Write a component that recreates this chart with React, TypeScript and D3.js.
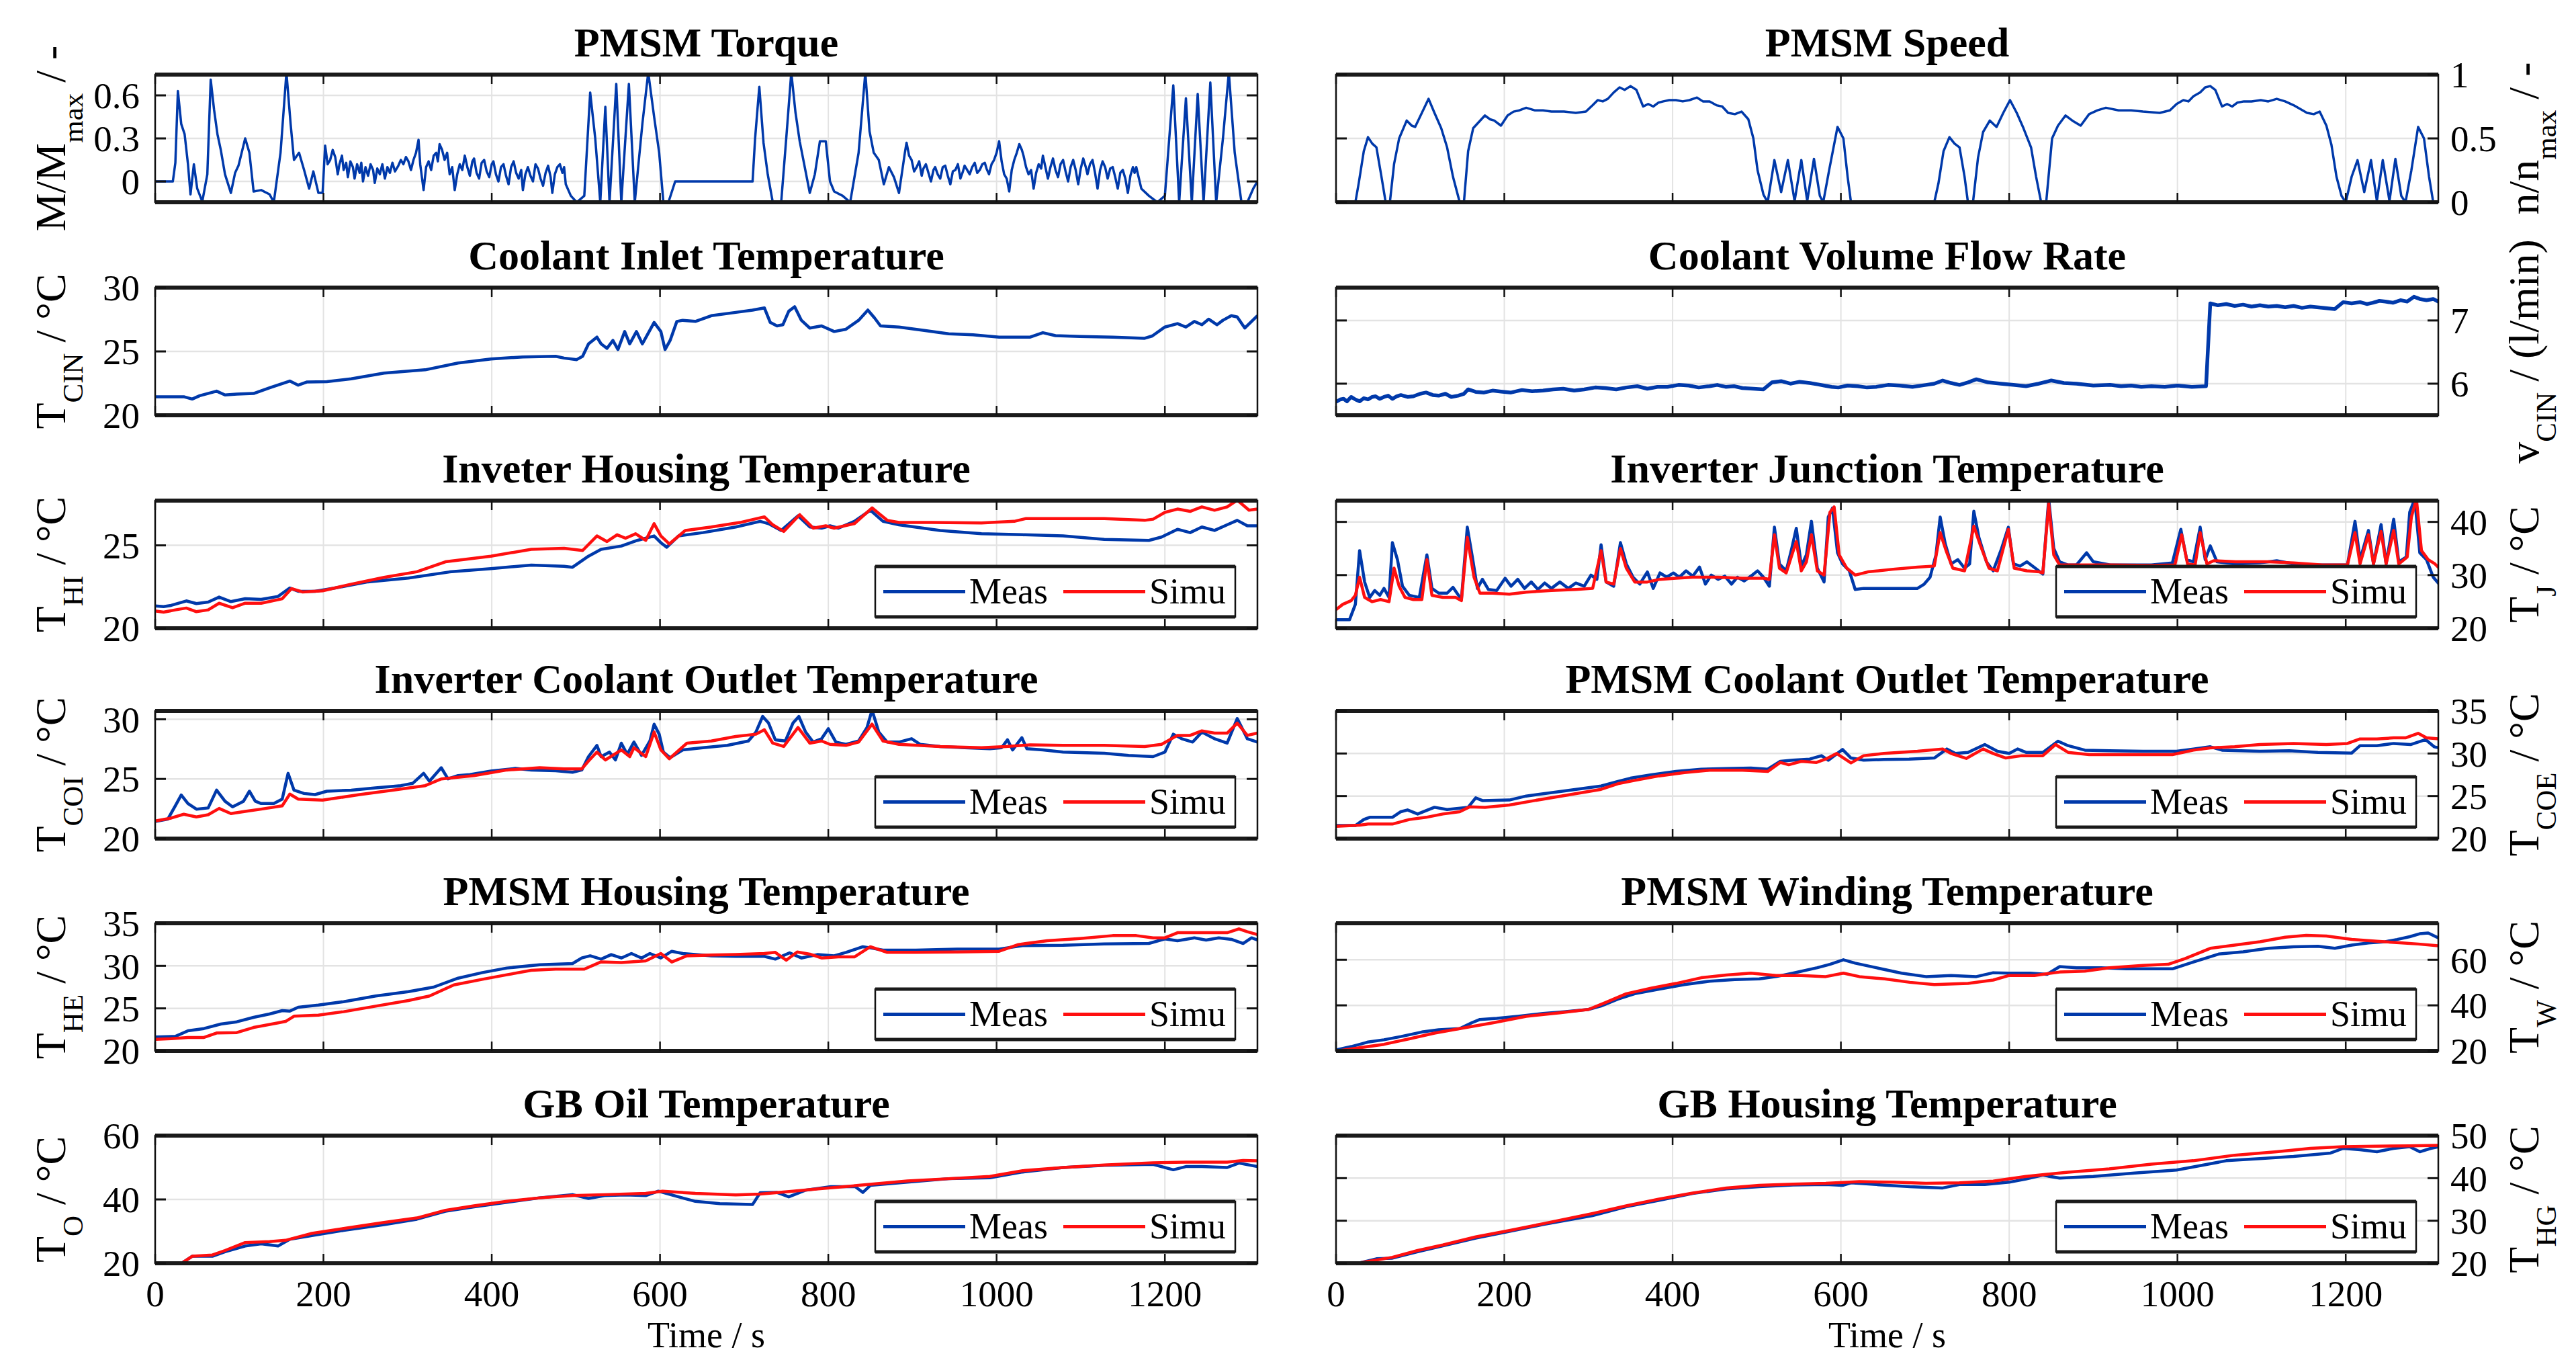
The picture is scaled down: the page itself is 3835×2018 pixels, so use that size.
import React from 'react';
import * as d3 from 'd3';

type P = [number, number];

// ---------------- DATA ----------------
const X_TICKS = [0, 200, 400, 600, 800, 1000, 1200];
const T_END = 1310;

const torque: P[] = [[0,0],[21,0],[24,0.13],[27,0.63],[31,0.4],[35,0.33],[39,0.12],[42,-0.09],[46,0.12],[50,-0.05],[56,-0.14],[62,0.05],[66,0.71],[70,0.5],[74,0.33],[78,0.22],[83,0.05],[90,-0.08],[95,0.06],[99,0.11],[107,0.3],[112,0.2],[117,-0.07],[126,-0.06],[136,-0.09],[141,-0.145],[149,0.2],[156,0.76],[161,0.4],[165,0.15],[171,0.2],[177,0.08],[183,-0.05],[188,0.07],[194,-0.08],[199,-0.08],
[202,0.25],[205,0.12],[208,0.15],[211,0.22],[214,0.17],[217,0.05],[219,0.12],[222,0.18],[224,0.08],[227,0.13],[229,0.03],[232,0.14],[235,0.1],[237,0.02],[240,0.12],[243,0.06],[245,0.13],[247,0.0],[250,0.1],[253,0.04],[256,0.12],[259,0.08],[261,-0.01],[264,0.09],[267,0.05],[270,0.12],[273,0.02],[276,0.1],[279,0.06],[282,0.13],[285,0.07],[289,0.11],[292,0.15],[295,0.12],[298,0.17],[301,0.14],[304,0.08],[307,0.15],[310,0.2],[313,0.29],[315,0.12],[317,0.03],[319,-0.06],[322,0.1],[325,0.14],[328,0.08],[331,0.18],[334,0.2],[336,0.14],[338,0.26],[341,0.22],[344,0.15],[347,0.2],[350,0.05],[353,0.1],[356,-0.06],[359,0.05],[362,0.12],[365,0.08],[368,0.18],[371,0.1],[374,0.04],[377,0.14],[379,0.16],[382,0.06],[385,0.02],[388,0.13],[391,0.15],[394,0.07],[397,0.03],[400,0.12],[402,0.14],[405,0.05],[408,0.0],[411,0.1],[414,0.12],[417,0.04],[420,-0.02],[423,0.1],[426,0.14],[429,0.06],[432,0.02],[435,0.08],[437,-0.06],[440,0.05],[443,0.1],[446,0.04],[449,0.0],[452,0.12],[455,0.09],[458,0.02],[461,-0.03],[464,0.06],[467,0.11],[470,0.03],[472,-0.08],[475,0.05],[478,0.1],[481,0.12],[484,0.06],[486,0.1],[488,-0.02],
[494,-0.1],[501,-0.145],[510,-0.1],[517,0.62],[523,0.3],[529,-0.145],[535,0.52],[540,-0.145],[548,0.68],[554,-0.145],[563,0.68],[570,-0.145],[579,0.4],[586,0.76],[593,0.45],[599,0.2],[604,-0.145],[610,-0.145],[618,0],[710,0],[713,0.3],[718,0.66],[723,0.27],[728,0.05],[734,-0.145],[744,-0.145],[750,0.3],[756,0.76],[761,0.48],[766,0.28],[772,0.1],[778,-0.08],[784,0.05],[790,0.28],[797,0.28],[802,0],[807,-0.07],[817,-0.1],[826,-0.145],[836,0.2],[844,0.76],[849,0.35],[854,0.2],[860,0.15],[866,-0.02],[872,0.1],[878,0.03],[884,-0.08],
[889,0.12],[891,0.2],[893,0.27],[896,0.18],[899,0.15],[902,0.07],[905,0.1],[908,0.14],[911,0.04],[913,0.09],[916,0.12],[919,0.06],[922,0],[925,0.08],[927,0.1],[930,0.05],[933,0.02],[936,0.1],[939,0.11],[942,0.04],[945,-0.02],[948,0.07],[951,0.08],[954,0.12],[957,0.02],[960,0.07],[962,0.11],[965,0.08],[968,0.05],[971,0.1],[974,0.13],[977,0.06],[980,0.08],[983,0.12],[986,0.13],[988,0.09],[991,0.05],[994,0.12],[997,0.15],[1000,0.2],[1003,0.28],[1006,0.14],[1009,0.05],[1012,0.02],[1015,-0.07],[1018,0.08],[1021,0.15],[1024,0.2],[1027,0.26],[1030,0.22],[1032,0.18],[1035,0.1],[1038,0.05],[1041,0.08],[1044,-0.05],[1047,0.06],[1050,0.12],[1053,0.09],[1055,0.18],[1058,0.1],[1061,0.02],[1064,0.1],[1067,0.16],[1070,0.08],[1073,0.03],[1076,0.12],[1079,0.15],[1082,0.07],[1085,0],[1088,0.1],[1091,0.15],[1094,0.08],[1097,-0.02],[1100,0.09],[1103,0.16],[1106,0.1],[1108,0.05],[1111,0.12],[1114,0.15],[1117,0.06],[1120,-0.05],[1123,0.08],[1126,0.14],[1129,0.1],[1132,0.02],[1135,0.09],[1138,0.1],[1141,0.03],[1144,-0.05],[1147,0.06],[1150,0.08],[1153,0.02],[1156,-0.08],[1159,0.04],[1162,0.1],[1164,0.06],[1166,0.1],
[1172,-0.05],[1181,-0.1],[1191,-0.145],[1200,-0.1],[1210,0.67],[1217,-0.145],[1225,0.58],[1232,-0.145],[1239,0.61],[1246,-0.145],[1254,0.69],[1261,-0.145],[1269,0.3],[1276,0.76],[1283,0.2],[1291,-0.145],[1298,-0.145],[1305,-0.05],[1310,0]];

const speed: P[] = [[0,0],[23,0],[27,0.15],[33,0.4],[38,0.51],[43,0.46],[48,0.43],[54,0.2],[59,0],[64,0],[69,0.3],[75,0.5],[84,0.64],[90,0.6],[94,0.59],[102,0.7],[110,0.81],[117,0.7],[125,0.58],[132,0.43],[139,0.2],[147,0],[152,0],[157,0.4],[163,0.58],[170,0.63],[177,0.68],[183,0.65],[188,0.64],[196,0.6],[204,0.68],[211,0.71],[218,0.72],[226,0.74],[236,0.72],[246,0.72],[256,0.71],[271,0.71],[285,0.7],[297,0.71],[305,0.76],[311,0.8],[317,0.79],[323,0.81],[330,0.86],[337,0.9],[343,0.88],[350,0.91],[357,0.88],[365,0.75],[371,0.77],[377,0.75],[383,0.78],[389,0.79],[396,0.8],[404,0.8],[412,0.79],[420,0.8],[429,0.82],[436,0.79],[444,0.79],[452,0.76],[459,0.75],[466,0.7],[474,0.69],[482,0.71],[490,0.65],[496,0.5],[501,0.25],[508,0.06],[513,0],[521,0.33],[529,0.08],[537,0.33],[545,0.01],[553,0.33],[560,0.01],[568,0.34],[575,0.05],[579,0],[586,0.25],[596,0.59],[603,0.5],[608,0.2],[612,0],[711,0],[716,0.15],[722,0.4],[729,0.51],[735,0.46],[741,0.43],[747,0.2],[751,0],[757,0],[763,0.35],[769,0.55],[777,0.64],[785,0.59],[793,0.7],[801,0.8],[809,0.7],[817,0.58],[826,0.43],[832,0.2],[838,0],[844,0],[851,0.5],[858,0.6],[867,0.68],[875,0.64],[885,0.6],[895,0.69],[905,0.72],[915,0.74],[930,0.72],[945,0.72],[959,0.71],[979,0.7],[991,0.72],[999,0.77],[1007,0.8],[1013,0.79],[1019,0.83],[1027,0.86],[1033,0.9],[1039,0.91],[1045,0.88],[1053,0.75],[1059,0.77],[1065,0.75],[1071,0.78],[1079,0.79],[1088,0.79],[1099,0.8],[1108,0.79],[1118,0.81],[1128,0.79],[1138,0.76],[1146,0.73],[1154,0.7],[1162,0.69],[1169,0.71],[1177,0.6],[1183,0.45],[1189,0.2],[1195,0.05],[1200,0],[1207,0.2],[1214,0.33],[1222,0.08],[1230,0.33],[1237,0.01],[1244,0.33],[1252,0.01],[1259,0.34],[1266,0.05],[1271,0],[1278,0.25],[1286,0.59],[1293,0.5],[1299,0.2],[1304,0],[1311,0]];

const coolantInlet: P[] = [[0,21.45],[34,21.45],[44,21.27],[53,21.53],[73,21.89],[83,21.59],[97,21.66],[117,21.71],[136,22.15],[160,22.68],[170,22.36],[180,22.6],[204,22.63],[233,22.86],[272,23.3],[321,23.56],[360,24.09],[399,24.41],[437,24.57],[476,24.62],[486,24.48],[501,24.36],[508,24.62],[515,25.59],[525,26.12],[530,25.59],[537,25.24],[544,25.86],[550,25.15],[558,26.56],[564,25.59],[572,26.56],[579,25.59],[593,27.27],[601,26.56],[606,25.15],[612,25.86],[620,27.35],[627,27.44],[642,27.35],[661,27.8],[690,28.06],[710,28.24],[724,28.41],[731,27.27],[739,27.0],[746,27.09],[753,28.15],[760,28.5],[768,27.44],[778,26.83],[792,27.0],[807,26.56],[821,26.74],[836,27.44],[847,28.24],[855,27.62],[862,27.0],[884,26.91],[914,26.65],[943,26.38],[972,26.3],[1003,26.12],[1040,26.12],[1055,26.47],[1070,26.24],[1099,26.17],[1138,26.12],[1176,26.03],[1185,26.21],[1200,26.91],[1215,27.18],[1225,26.91],[1235,27.35],[1244,27.09],[1252,27.53],[1262,27.09],[1269,27.44],[1279,27.8],[1286,27.7],[1295,26.83],[1310,27.8]];

const flowRate: P[] = [[0,5.71],[5,5.75],[9,5.76],[13,5.72],[18,5.79],[23,5.75],[28,5.72],[33,5.77],[38,5.75],[43,5.79],[47,5.8],[52,5.76],[57,5.79],[62,5.81],[67,5.76],[72,5.8],[77,5.82],[85,5.79],[92,5.8],[100,5.84],[107,5.86],[115,5.82],[122,5.81],[130,5.84],[137,5.79],[145,5.81],[152,5.84],[157,5.91],[166,5.87],[176,5.86],[186,5.89],[196,5.875],[208,5.86],[221,5.9],[233,5.88],[246,5.89],[258,5.91],[270,5.92],[283,5.89],[295,5.91],[308,5.94],[320,5.93],[333,5.91],[345,5.94],[358,5.96],[370,5.92],[382,5.95],[394,5.95],[407,5.98],[419,5.97],[431,5.94],[444,5.96],[453,5.98],[463,5.95],[473,5.96],[483,5.93],[496,5.92],[508,5.91],[518,6.02],[529,6.04],[540,6.0],[551,6.03],[563,6.01],[572,5.99],[580,5.97],[589,5.95],[597,5.94],[608,5.97],[620,5.96],[631,5.94],[642,5.95],[656,5.98],[670,5.97],[685,5.95],[701,5.98],[711,6.0],[721,6.05],[731,6.01],[741,5.98],[751,6.02],[761,6.07],[775,6.02],[790,6.0],[805,5.98],[820,5.96],[835,6.0],[850,6.05],[865,6.01],[880,6.0],[900,5.97],[920,5.98],[933,5.96],[945,5.97],[957,5.95],[969,5.96],[985,5.95],[1000,5.97],[1017,5.95],[1034,5.96],[1039,7.27],[1048,7.24],[1058,7.26],[1068,7.23],[1078,7.25],[1088,7.22],[1098,7.24],[1108,7.22],[1118,7.23],[1128,7.21],[1138,7.23],[1148,7.2],[1158,7.22],[1172,7.2],[1187,7.18],[1197,7.29],[1207,7.27],[1217,7.29],[1225,7.26],[1232,7.28],[1240,7.31],[1247,7.3],[1256,7.28],[1265,7.32],[1273,7.3],[1281,7.375],[1288,7.34],[1296,7.32],[1304,7.34],[1311,7.29]];

const housingInvMeas: P[] = [[0,21.35],[10,21.31],[19,21.38],[37,21.65],[49,21.49],[63,21.58],[76,21.88],[90,21.61],[107,21.78],[126,21.74],[146,21.92],[160,22.43],[170,22.23],[190,22.23],[214,22.43],[253,22.8],[301,23.03],[350,23.4],[399,23.6],[447,23.81],[486,23.74],[496,23.68],[515,24.35],[530,24.76],[554,24.96],[573,25.3],[593,25.57],[601,25.16],[608,24.89],[622,25.57],[651,25.77],[690,26.11],[719,26.45],[729,26.31],[744,25.9],[764,26.78],[778,26.11],[792,26.04],[802,26.18],[812,26.04],[831,26.45],[850,27.12],[865,26.45],[884,26.24],[933,25.9],[982,25.7],[1031,25.64],[1079,25.57],[1128,25.36],[1181,25.3],[1196,25.5],[1215,25.97],[1230,25.77],[1244,26.11],[1259,25.9],[1274,26.24],[1286,26.51],[1298,26.18],[1310,26.18]];
const housingInvSimu: P[] = [[0,21.04],[10,20.97],[24,21.11],[37,21.22],[49,21.0],[63,21.11],[76,21.51],[92,21.24],[107,21.51],[126,21.51],[151,21.78],[162,22.39],[175,22.19],[199,22.26],[233,22.66],[272,23.07],[311,23.41],[345,24.01],[399,24.35],[447,24.76],[486,24.82],[508,24.69],[525,25.57],[537,25.23],[549,25.64],[559,25.43],[571,25.7],[583,25.3],[593,26.31],[601,25.57],[611,25.09],[630,25.9],[661,26.11],[695,26.38],[724,26.72],[734,26.24],[747,25.84],[766,26.85],[782,26.04],[797,26.18],[807,26.04],[831,26.31],[852,27.26],[870,26.51],[884,26.38],[923,26.38],[982,26.35],[1021,26.45],[1035,26.62],[1079,26.62],[1128,26.62],[1176,26.51],[1186,26.58],[1200,26.99],[1215,27.19],[1230,27.05],[1244,27.32],[1259,27.12],[1274,27.32],[1286,27.73],[1300,27.12],[1310,27.19]];

const junctionMeas: P[] = [[0,21.6],[16,21.6],[23,24.5],[28,34.6],[34,28.7],[40,25.8],[46,27.1],[52,26.2],[57,27.5],[63,25.8],[67,36.1],[73,32.9],[79,27.9],[87,26.2],[99,25.8],[108,33.8],[114,27.5],[122,26.6],[132,26.6],[139,27.7],[149,25.4],[156,39.0],[162,33.4],[168,27.5],[174,29.2],[181,27.3],[191,27.1],[201,29.4],[208,27.9],[216,29.2],[224,27.5],[232,28.7],[240,27.3],[248,28.5],[256,27.5],[266,28.7],[276,27.5],[285,28.5],[295,27.9],[303,30.0],[310,29.2],[315,35.7],[321,28.7],[330,27.9],[338,36.1],[345,32.1],[353,29.6],[361,28.3],[370,30.6],[377,27.5],[385,30.4],[393,29.6],[401,30.4],[408,29.6],[416,30.8],[424,29.8],[432,31.5],[439,28.3],[446,30.0],[454,29.2],[462,29.8],[470,28.3],[477,29.6],[485,28.9],[493,29.8],[501,30.8],[508,29.6],[515,27.9],[521,39.0],[527,32.1],[535,30.8],[541,34.6],[547,38.8],[553,31.7],[559,33.8],[565,40.1],[572,31.3],[580,28.7],[585,40.9],[590,42.6],[596,34.2],[602,32.1],[610,30.8],[617,27.3],[627,27.5],[642,27.5],[662,27.5],[691,27.5],[699,28.3],[706,29.6],[713,33.8],[718,40.9],[724,35.9],[731,32.1],[739,32.9],[747,31.3],[753,32.1],[758,42.0],[764,37.1],[773,32.5],[781,30.8],[791,35.0],[799,39.0],[805,32.1],[813,31.7],[821,32.5],[831,31.3],[840,30.2],[847,44.3],[853,35.0],[860,32.5],[870,31.9],[880,31.9],[892,34.2],[900,32.5],[920,31.9],[939,31.9],[969,31.9],[994,32.3],[1004,38.6],[1011,32.9],[1019,32.5],[1027,39.0],[1033,32.9],[1039,35.5],[1047,32.5],[1069,32.1],[1098,32.3],[1118,32.7],[1138,32.1],[1167,31.9],[1202,31.9],[1211,40.1],[1217,32.9],[1227,38.4],[1233,32.1],[1242,39.5],[1248,32.1],[1257,40.5],[1263,32.5],[1272,33.4],[1276,41.8],[1282,44.3],[1288,34.2],[1296,32.9],[1304,29.6],[1311,28.3]];
const junctionSimu: P[] = [[0,23.5],[8,24.5],[18,25.2],[23,26.2],[28,29.6],[34,25.8],[43,25.0],[53,25.4],[63,25.0],[69,31.3],[75,27.9],[82,25.8],[92,25.4],[102,25.4],[108,32.9],[114,26.2],[127,25.8],[142,25.8],[149,25.2],[156,37.1],[164,29.6],[171,26.6],[186,26.6],[206,26.4],[226,26.8],[256,27.1],[285,27.3],[305,27.5],[315,34.6],[321,28.7],[330,28.3],[338,35.0],[345,31.3],[355,28.7],[370,28.7],[385,29.2],[404,29.4],[424,29.6],[454,29.6],[483,29.4],[508,29.4],[515,29.2],[521,37.6],[527,31.3],[535,30.4],[541,33.4],[547,36.3],[553,30.8],[559,32.5],[565,37.6],[572,30.8],[580,30.0],[587,41.8],[592,42.8],[598,33.8],[607,31.3],[617,30.0],[632,30.6],[662,31.1],[691,31.5],[711,31.7],[718,38.0],[725,34.6],[733,31.3],[747,30.8],[758,39.2],[766,35.5],[776,31.3],[786,30.8],[799,38.6],[806,31.3],[821,30.8],[836,30.6],[840,30.4],[847,43.4],[853,33.8],[860,31.9],[880,31.9],[900,31.9],[920,31.9],[969,31.8],[997,31.9],[1005,37.6],[1012,32.1],[1021,31.9],[1027,38.0],[1035,32.1],[1043,32.7],[1069,32.5],[1108,32.5],[1138,32.3],[1172,31.9],[1202,31.9],[1211,38.0],[1217,32.1],[1227,37.6],[1233,32.1],[1242,38.2],[1248,32.1],[1257,38.4],[1263,32.1],[1273,33.4],[1278,40.9],[1284,44.3],[1290,34.6],[1298,32.9],[1306,32.1],[1311,31.3]];

const invOutletMeas: P[] = [[0,21.44],[15,21.63],[24,22.75],[31,23.65],[39,22.94],[49,22.47],[63,22.57],[73,24.06],[83,23.13],[92,22.66],[105,23.13],[112,23.97],[119,23.13],[126,22.94],[141,22.94],[151,23.31],[158,25.47],[165,24.06],[177,23.78],[190,23.69],[204,23.97],[233,24.06],[262,24.25],[292,24.44],[306,24.63],[319,25.47],[326,24.81],[340,25.94],[348,25.0],[360,25.28],[374,25.37],[399,25.66],[428,25.88],[447,25.75],[476,25.69],[496,25.56],[507,25.75],[515,26.87],[525,27.81],[530,26.87],[540,27.25],[547,26.59],[554,28.0],[561,27.06],[569,28.09],[578,26.97],[588,28.18],[593,29.59],[599,28.75],[604,27.25],[612,26.78],[627,27.43],[651,27.62],[680,27.81],[705,28.18],[714,28.93],[722,30.24],[729,29.68],[737,28.28],[749,28.18],[758,29.68],[765,30.24],[773,28.93],[782,28.09],[792,28.37],[800,29.21],[809,28.09],[821,27.9],[836,28.18],[846,29.31],[852,30.77],[860,28.93],[870,28.09],[884,28.09],[899,28.37],[909,27.9],[933,27.72],[962,27.62],[992,27.53],[1006,27.62],[1013,28.28],[1019,27.43],[1030,28.46],[1036,27.53],[1055,27.43],[1079,27.25],[1128,27.15],[1157,26.97],[1186,26.87],[1200,27.25],[1210,28.75],[1220,28.37],[1233,28.09],[1244,28.93],[1259,28.37],[1274,28.0],[1286,30.06],[1298,28.37],[1310,28.09]];
const invOutletSimu: P[] = [[0,21.48],[19,21.72],[34,22.04],[49,21.82],[63,22.0],[76,22.53],[90,22.1],[107,22.28],[126,22.47],[151,22.75],[160,23.73],[170,23.31],[199,23.22],[243,23.69],[282,24.06],[321,24.44],[340,25.0],[379,25.28],[418,25.75],[457,25.94],[486,25.84],[507,25.84],[515,26.5],[525,27.25],[535,26.59],[554,27.43],[564,26.87],[569,27.62],[583,26.87],[593,28.93],[601,27.43],[611,26.69],[632,28.0],[661,28.18],[690,28.56],[714,28.75],[724,29.12],[734,28.0],[747,27.72],[764,29.31],[778,28.0],[792,28.18],[802,27.9],[821,27.81],[836,28.09],[852,29.59],[865,28.18],[884,27.9],[933,27.72],[982,27.62],[1011,27.72],[1040,27.85],[1079,27.81],[1128,27.81],[1176,27.72],[1196,27.9],[1215,28.65],[1230,28.65],[1244,29.03],[1259,28.84],[1274,28.84],[1286,29.68],[1298,28.65],[1310,28.84]];

const pmsmOutletMeas: P[] = [[0,21.53],[23,21.53],[33,22.24],[40,22.5],[67,22.5],[77,23.16],[85,23.37],[97,22.89],[117,23.68],[132,23.42],[157,23.68],[166,24.79],[174,24.47],[206,24.53],[226,25.0],[266,25.53],[315,26.18],[335,26.71],[350,27.1],[375,27.5],[404,27.89],[434,28.16],[464,28.24],[493,28.29],[513,28.16],[528,29.08],[543,29.21],[563,29.34],[577,29.74],[585,29.21],[602,30.47],[612,29.47],[627,29.21],[651,29.29],[681,29.34],[711,29.47],[726,30.53],[736,30.0],[751,30.13],[771,31.05],[786,30.26],[800,30.0],[810,30.53],[820,30.13],[840,30.13],[858,31.45],[870,30.92],[890,30.39],[919,30.32],[959,30.26],[999,30.26],[1019,30.53],[1039,30.79],[1053,30.39],[1098,30.26],[1133,30.32],[1167,30.13],[1207,30.05],[1217,30.92],[1237,30.92],[1257,31.18],[1277,31.05],[1295,31.63],[1305,30.79],[1311,30.66]];
const pmsmOutletSimu: P[] = [[0,21.45],[28,21.58],[38,21.71],[67,21.71],[87,22.24],[107,22.5],[127,22.89],[147,23.16],[159,23.74],[177,23.68],[206,23.95],[236,24.47],[276,25.13],[315,25.79],[335,26.45],[355,26.84],[384,27.37],[414,27.76],[444,28.03],[483,28.03],[513,27.89],[528,28.95],[538,28.68],[553,29.08],[571,28.95],[582,29.34],[595,30.0],[612,28.89],[627,29.74],[651,30.0],[691,30.26],[721,30.53],[731,30.0],[749,29.42],[769,30.53],[781,30.0],[796,29.47],[815,29.74],[840,29.74],[855,31.05],[870,30.13],[895,29.87],[919,29.87],[959,29.87],[994,29.87],[1019,30.39],[1039,30.66],[1068,30.79],[1098,31.05],[1138,31.18],[1177,31.05],[1202,31.18],[1217,31.71],[1237,31.71],[1257,31.84],[1271,31.84],[1286,32.37],[1296,31.84],[1311,31.71]];

const pmsmHousingMeas: P[] = [[0,21.63],[24,21.71],[39,22.37],[58,22.63],[78,23.16],[97,23.42],[117,23.95],[136,24.34],[151,24.74],[160,24.68],[170,25.13],[194,25.39],[224,25.79],[262,26.45],[301,26.97],[331,27.5],[360,28.55],[389,29.21],[418,29.74],[457,30.13],[496,30.26],[507,30.92],[517,31.18],[530,30.79],[542,31.32],[554,30.92],[566,31.45],[578,30.92],[588,31.45],[601,30.92],[614,31.71],[627,31.45],[642,31.32],[661,31.18],[690,31.11],[724,31.11],[737,30.79],[754,31.53],[768,30.92],[787,31.32],[807,31.18],[821,31.58],[841,32.24],[850,32.11],[865,31.84],[904,31.84],[953,31.97],[1003,31.97],[1031,32.37],[1079,32.42],[1128,32.58],[1181,32.63],[1200,33.16],[1215,32.95],[1235,33.29],[1249,33.03],[1264,33.29],[1279,33.11],[1293,32.63],[1303,33.29],[1310,33.03]];
const pmsmHousingSimu: P[] = [[0,21.37],[19,21.45],[39,21.58],[58,21.58],[73,22.11],[97,22.16],[117,22.76],[146,23.29],[155,23.47],[165,24.08],[194,24.21],[224,24.61],[262,25.26],[301,25.92],[326,26.45],[355,27.76],[389,28.42],[418,28.95],[447,29.47],[476,29.61],[510,29.61],[530,30.47],[554,30.39],[583,30.58],[601,31.45],[614,30.45],[632,31.18],[661,31.26],[690,31.32],[724,31.45],[737,31.58],[750,30.66],[763,31.63],[778,31.37],[792,30.92],[812,31.05],[831,31.05],[850,32.24],[870,31.58],[904,31.58],[953,31.63],[1003,31.71],[1026,32.5],[1060,32.95],[1099,33.21],[1138,33.55],[1166,33.55],[1186,33.29],[1200,33.29],[1215,33.89],[1235,33.89],[1254,33.89],[1274,33.89],[1288,34.34],[1298,34.0],[1310,33.68]];

const windingMeas: P[] = [[0,20.4],[18,21.9],[38,23.9],[57,24.9],[77,26.3],[102,28.3],[122,29.3],[147,29.8],[161,32.3],[171,33.8],[191,34.3],[216,35.2],[246,36.4],[271,37.2],[300,38.2],[315,39.7],[335,42.7],[355,45.1],[384,47.1],[414,49.1],[444,50.6],[474,51.3],[503,51.6],[523,52.6],[543,54.1],[572,56.5],[587,58.0],[603,60.0],[617,58.5],[642,56.5],[672,54.1],[701,52.6],[731,53.1],[761,52.6],[781,54.3],[800,54.1],[825,54.1],[845,53.6],[860,57.0],[880,56.5],[909,56.5],[939,56.0],[969,56.0],[994,56.0],[1019,59.0],[1049,62.5],[1078,63.5],[1108,65.0],[1138,65.7],[1167,65.9],[1187,65.0],[1207,66.4],[1227,67.4],[1247,67.9],[1261,68.9],[1276,70.1],[1288,71.4],[1298,71.7],[1311,69.4]];
const windingSimu: P[] = [[0,19.9],[28,21.4],[57,22.9],[87,25.3],[117,27.8],[147,29.8],[186,32.3],[226,35.2],[266,36.7],[300,38.2],[320,41.2],[345,45.1],[375,47.6],[404,49.6],[434,52.1],[464,53.3],[493,54.1],[523,53.1],[553,53.1],[582,52.6],[603,54.1],[622,52.6],[652,51.6],[682,50.1],[711,49.1],[751,49.6],[781,51.1],[800,53.1],[830,53.1],[860,54.6],[890,55.0],[919,56.5],[959,57.5],[989,58.0],[1009,60.5],[1039,65.0],[1068,66.4],[1098,67.9],[1128,69.9],[1153,70.7],[1177,70.4],[1207,68.9],[1237,68.1],[1267,67.4],[1286,66.9],[1311,66.1]];

const gbOilMeas: P[] = [[0,19.9],[31,19.9],[44,22.2],[68,22.2],[83,23.6],[107,25.4],[126,26.1],[146,25.4],[160,27.5],[185,28.6],[224,30.3],[272,32.1],[311,33.8],[345,36.3],[379,37.7],[418,39.1],[457,40.5],[496,41.5],[515,40.3],[534,41.2],[559,41.4],[583,41.2],[598,42.6],[622,40.8],[642,39.4],[671,38.7],[710,38.4],[719,42.1],[739,42.2],[753,40.8],[773,42.9],[803,44.0],[832,44.0],[841,42.2],[850,44.4],[894,45.4],[943,46.5],[992,46.8],[1031,48.6],[1079,50.0],[1128,50.7],[1186,51.0],[1210,49.3],[1225,50.3],[1244,50.3],[1274,50.0],[1288,51.4],[1310,50.3]];
const gbOilSimu: P[] = [[0,19.9],[31,19.9],[44,22.2],[68,22.6],[83,24.0],[107,26.5],[136,26.8],[155,27.2],[185,29.3],[224,30.9],[272,32.8],[311,34.2],[345,36.6],[379,38.0],[418,39.4],[457,40.5],[496,41.2],[534,41.5],[583,41.9],[603,42.6],[642,41.9],[690,41.4],[719,41.7],[758,42.6],[788,43.3],[836,44.4],[894,45.8],[943,46.5],[992,47.2],[1031,49.0],[1079,50.0],[1128,50.8],[1186,51.5],[1225,51.7],[1274,51.7],[1293,52.2],[1310,52.1]];

const gbHousingMeas: P[] = [[0,19.8],[28,20.1],[48,21.05],[67,21.2],[97,22.7],[127,24.1],[166,25.9],[206,27.5],[246,29.1],[305,31.2],[345,33.3],[384,34.8],[424,36.4],[464,37.5],[503,38.0],[543,38.4],[582,38.5],[602,38.3],[612,38.9],[642,38.5],[682,38.0],[721,37.7],[741,38.5],[771,38.5],[800,39.05],[820,39.8],[840,40.7],[860,40.0],[900,40.4],[949,41.2],[999,41.9],[1029,43.0],[1058,44.1],[1098,44.6],[1138,45.1],[1182,45.9],[1197,47.0],[1217,46.7],[1237,46.2],[1257,47.0],[1276,47.4],[1288,46.2],[1301,47.0],[1311,47.4]];
const gbHousingSimu: P[] = [[0,19.8],[28,20.1],[67,21.4],[97,23.0],[127,24.3],[166,26.2],[206,27.7],[246,29.3],[305,31.7],[345,33.5],[384,35.1],[424,36.5],[464,37.7],[503,38.3],[543,38.6],[582,38.8],[622,39.2],[662,39.05],[701,38.8],[741,38.9],[781,39.3],[820,40.4],[870,41.4],[919,42.2],[969,43.3],[1019,44.1],[1068,45.4],[1118,46.2],[1158,47.0],[1197,47.4],[1237,47.5],[1276,47.6],[1311,47.7]];

const TITLES_LEFT = ['PMSM Torque', 'Coolant Inlet Temperature', 'Inveter Housing Temperature', 'Inverter Coolant Outlet Temperature', 'PMSM Housing Temperature', 'GB Oil Temperature'];
const TITLES_RIGHT = ['PMSM Speed', 'Coolant Volume Flow Rate', 'Inverter Junction Temperature', 'PMSM Coolant Outlet Temperature', 'PMSM Winding Temperature', 'GB Housing Temperature'];
const LEGEND_LABELS = ['Meas', 'Simu'];

// ---------------- STYLE / LAYOUT ----------------
const BLUE = '#0039aa';
const RED = '#ff0f0f';
const FONT = '"Liberation Serif", "Times New Roman", serif';
const W = 3835, H = 2018;
const COLS = [{ x0: 231, x1: 1872 }, { x0: 1989, x1: 3630 }];
const ROW_TOPS = [111, 428, 745, 1058, 1374, 1690];
const PH = 190;

interface Series { data: P[]; color: string; width: number; }
interface Panel {
  col: number; row: number; title: string;
  yDomain: [number, number]; yTicks: number[];
  label: [string, string, string];
  series: Series[]; legend: boolean;
}

const meas = (d: P[]): Series => ({ data: d, color: BLUE, width: 4.5 });
const simu = (d: P[]): Series => ({ data: d, color: RED, width: 4.5 });

const PANELS: Panel[] = [
  { col: 0, row: 0, title: TITLES_LEFT[0], yDomain: [-0.145, 0.745], yTicks: [0, 0.3, 0.6], label: ['M/M', 'max', ' / -'], series: [{ data: torque, color: BLUE, width: 3.5 }], legend: false },
  { col: 1, row: 0, title: TITLES_RIGHT[0], yDomain: [0, 1], yTicks: [0, 0.5, 1], label: ['n/n', 'max', ' / -'], series: [{ data: speed, color: BLUE, width: 3.5 }], legend: false },
  { col: 0, row: 1, title: TITLES_LEFT[1], yDomain: [20, 30], yTicks: [20, 25, 30], label: ['T', 'CIN', ' / °C'], series: [{ data: coolantInlet, color: BLUE, width: 4.5 }], legend: false },
  { col: 1, row: 1, title: TITLES_RIGHT[1], yDomain: [5.5, 7.52], yTicks: [6, 7], label: ['v', 'CIN', ' / (l/min)'], series: [{ data: flowRate, color: BLUE, width: 5.5 }], legend: false },
  { col: 0, row: 2, title: TITLES_LEFT[2], yDomain: [20, 27.7], yTicks: [20, 25], label: ['T', 'HI', ' / °C'], series: [meas(housingInvMeas), simu(housingInvSimu)], legend: true },
  { col: 1, row: 2, title: TITLES_RIGHT[2], yDomain: [20, 44], yTicks: [20, 30, 40], label: ['T', 'J', ' / °C'], series: [meas(junctionMeas), simu(junctionSimu)], legend: true },
  { col: 0, row: 3, title: TITLES_LEFT[3], yDomain: [20, 30.7], yTicks: [20, 25, 30], label: ['T', 'COI', ' / °C'], series: [meas(invOutletMeas), simu(invOutletSimu)], legend: true },
  { col: 1, row: 3, title: TITLES_RIGHT[3], yDomain: [20, 35], yTicks: [20, 25, 30, 35], label: ['T', 'COE', ' / °C'], series: [meas(pmsmOutletMeas), simu(pmsmOutletSimu)], legend: true },
  { col: 0, row: 4, title: TITLES_LEFT[4], yDomain: [20, 35], yTicks: [20, 25, 30, 35], label: ['T', 'HE', ' / °C'], series: [meas(pmsmHousingMeas), simu(pmsmHousingSimu)], legend: true },
  { col: 1, row: 4, title: TITLES_RIGHT[4], yDomain: [20, 76], yTicks: [20, 40, 60], label: ['T', 'W', ' / °C'], series: [meas(windingMeas), simu(windingSimu)], legend: true },
  { col: 0, row: 5, title: TITLES_LEFT[5], yDomain: [20, 60], yTicks: [20, 40, 60], label: ['T', 'O', ' / °C'], series: [meas(gbOilMeas), simu(gbOilSimu)], legend: true },
  { col: 1, row: 5, title: TITLES_RIGHT[5], yDomain: [20, 50], yTicks: [20, 30, 40, 50], label: ['T', 'HG', ' / °C'], series: [meas(gbHousingMeas), simu(gbHousingSimu)], legend: true },
];

function PanelView({ p, idx }: { p: Panel; idx: number }) {
  const { x0, x1 } = COLS[p.col];
  const top = ROW_TOPS[p.row];
  const bottom = top + PH;
  const x = d3.scaleLinear().domain([0, T_END]).range([x0, x1]);
  const y = d3.scaleLinear().domain(p.yDomain).range([bottom, top]);
  const line = d3.line<P>().x(d => x(d[0])).y(d => y(d[1]));
  const clipId = `clip${idx}`;
  const cx = (x0 + x1) / 2;
  const cy = (top + bottom) / 2;
  const isRight = p.col === 1;
  const labelX = isRight ? 3779 : 97;
  const lgW = 536, lgH = 75;
  const lgX = x1 - 33 - lgW;
  const lgY = bottom - 17 - lgH;
  const lgMid = lgY + lgH / 2;

  return (
    <g>
      <defs>
        <clipPath id={clipId}>
          <rect x={x0} y={top} width={x1 - x0} height={PH} />
        </clipPath>
      </defs>
      <rect x={x0} y={top} width={x1 - x0} height={PH} fill="#fff" />
      {X_TICKS.filter(t => t > 0).map(t => (
        <line key={'gx' + t} x1={x(t)} x2={x(t)} y1={top} y2={bottom} stroke="#e3e3e3" strokeWidth={2} />
      ))}
      {p.yTicks.filter(v => y(v) > top + 2 && y(v) < bottom - 2).map(v => (
        <line key={'gy' + v} x1={x0} x2={x1} y1={y(v)} y2={y(v)} stroke="#e3e3e3" strokeWidth={2.5} />
      ))}
      <g clipPath={`url(#${clipId})`}>
        {p.series.map((s, i) => (
          <path key={i} d={line(s.data) || ''} fill="none" stroke={s.color} strokeWidth={s.width} strokeLinejoin="round" />
        ))}
      </g>
      <rect x={x0} y={top} width={x1 - x0} height={PH} fill="none" stroke="#111" strokeWidth={2.5} />
      <line x1={x0} x2={x1} y1={top} y2={top} stroke="#1a1a1a" strokeWidth={6} />
      <line x1={x0} x2={x1} y1={bottom} y2={bottom} stroke="#1a1a1a" strokeWidth={6} />
      {X_TICKS.map(t => (
        <g key={'tx' + t}>
          <line x1={x(t)} x2={x(t)} y1={top} y2={top + 14} stroke="#111" strokeWidth={2.5} />
          <line x1={x(t)} x2={x(t)} y1={bottom} y2={bottom - 14} stroke="#111" strokeWidth={2.5} />
        </g>
      ))}
      {p.yTicks.map(v => (
        <g key={'ty' + v}>
          <line x1={x0} x2={x0 + 16} y1={y(v)} y2={y(v)} stroke="#111" strokeWidth={3} />
          <line x1={x1} x2={x1 - 16} y1={y(v)} y2={y(v)} stroke="#111" strokeWidth={3} />
          <text x={isRight ? x1 + 18 : x0 - 23} y={y(v)} dy="0.35em" textAnchor={isRight ? 'start' : 'end'}
            fontFamily={FONT} fontSize={55} fill="#000">{String(v)}</text>
        </g>
      ))}
      <text x={cx} y={top - 27} textAnchor="middle" fontFamily={FONT} fontSize={62} fontWeight="bold" fill="#000">{p.title}</text>
      <text transform={`translate(${labelX},${cy}) rotate(-90)`} textAnchor="middle" fontFamily={FONT} fontSize={64} fill="#000">
        <tspan>{p.label[0]}</tspan>
        <tspan fontSize={43} dy={26}>{p.label[1]}</tspan>
        <tspan dy={-26}>{p.label[2]}</tspan>
      </text>
      {p.row === 5 && X_TICKS.map(t => (
        <text key={'xl' + t} x={x(t)} y={1944} textAnchor="middle" fontFamily={FONT} fontSize={55} fill="#000">{String(t)}</text>
      ))}
      {p.row === 5 && (
        <text x={cx} y={2005} textAnchor="middle" fontFamily={FONT} fontSize={54} fill="#000">Time / s</text>
      )}
      {p.legend && (
        <g>
          <rect x={lgX} y={lgY} width={lgW} height={lgH} fill="#fff" stroke="#111" strokeWidth={2.5} />
          <line x1={lgX} x2={lgX + lgW} y1={lgY} y2={lgY} stroke="#1a1a1a" strokeWidth={5} />
          <line x1={lgX} x2={lgX + lgW} y1={lgY + lgH} y2={lgY + lgH} stroke="#1a1a1a" strokeWidth={5} />
          <line x1={lgX + 12} x2={lgX + 134} y1={lgMid} y2={lgMid} stroke={BLUE} strokeWidth={5} />
          <text x={lgX + 140} y={lgMid + 17} fontFamily={FONT} fontSize={54} fill="#000">{LEGEND_LABELS[0]}</text>
          <line x1={lgX + 280} x2={lgX + 402} y1={lgMid} y2={lgMid} stroke={RED} strokeWidth={5} />
          <text x={lgX + 408} y={lgMid + 17} fontFamily={FONT} fontSize={54} fill="#000">{LEGEND_LABELS[1]}</text>
        </g>
      )}
    </g>
  );
}

export default function App() {
  return (
    <svg width={W} height={H} viewBox={`0 0 ${W} ${H}`}
      style={{ position: 'absolute', left: 0, top: 0, background: '#fff', display: 'block' }}>
      <rect x={0} y={0} width={W} height={H} fill="#fff" />
      {PANELS.map((p, i) => <PanelView key={i} p={p} idx={i} />)}
    </svg>
  );
}
